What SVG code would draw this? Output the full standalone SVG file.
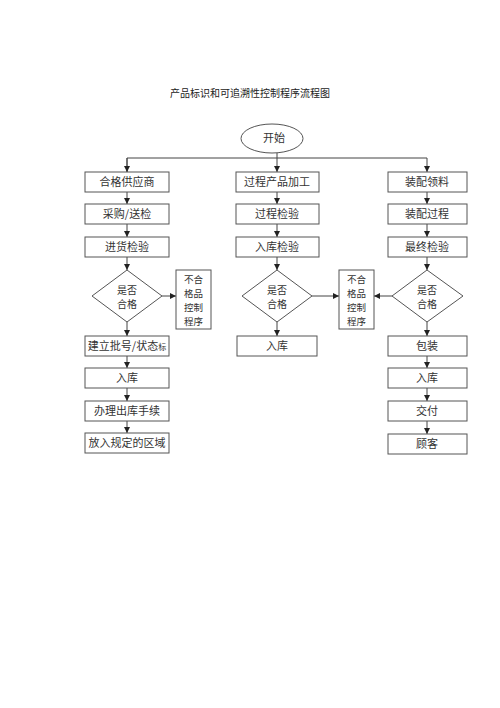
<svg xmlns="http://www.w3.org/2000/svg" width="500" height="708" viewBox="0 0 500 708">
<style>
.b{fill:#fff;stroke:#555;stroke-width:1}
.t{font-family:"Noto Sans CJK SC","Noto Sans",sans-serif;font-size:11px;fill:#333;text-anchor:middle}
.s{font-size:10px}
.n{font-size:9.5px}
.c{fill:none;stroke:#444;stroke-width:1}
</style>
<defs>
<marker id="a" markerUnits="userSpaceOnUse" markerWidth="6" markerHeight="6" refX="6" refY="3" orient="auto">
<path d="M0,0 L6,3 L0,6 z" fill="#222"/>
</marker>
</defs>
<rect width="500" height="708" fill="#fff"/>
<text class="t" x="250" y="97" style="font-size:10px;fill:#222">产品标识和可追溯性控制程序流程图</text>

<g id="connectors">
<line class="c" x1="277" y1="153" x2="277" y2="172" marker-end="url(#a)"/>
<polyline class="c" points="127,172 127,158 427,158 427,172" marker-end="url(#a)"/>
<line class="c" x1="127" y1="158" x2="127" y2="172" marker-end="url(#a)"/>
<line class="c" x1="127" y1="192" x2="127" y2="204" marker-end="url(#a)"/>
<line class="c" x1="127" y1="224" x2="127" y2="237" marker-end="url(#a)"/>
<line class="c" x1="127" y1="257" x2="127" y2="270" marker-end="url(#a)"/>
<line class="c" x1="127" y1="322" x2="127" y2="336" marker-end="url(#a)"/>
<line class="c" x1="162" y1="296" x2="176" y2="296" marker-end="url(#a)"/>
<line class="c" x1="127" y1="356" x2="127" y2="368" marker-end="url(#a)"/>
<line class="c" x1="127" y1="388" x2="127" y2="401" marker-end="url(#a)"/>
<line class="c" x1="127" y1="421" x2="127" y2="433" marker-end="url(#a)"/>
<line class="c" x1="277" y1="192" x2="277" y2="204" marker-end="url(#a)"/>
<line class="c" x1="277" y1="224" x2="277" y2="237" marker-end="url(#a)"/>
<line class="c" x1="277" y1="257" x2="277" y2="270" marker-end="url(#a)"/>
<line class="c" x1="277" y1="322" x2="277" y2="336" marker-end="url(#a)"/>
<line class="c" x1="312" y1="296" x2="339" y2="296" marker-end="url(#a)"/>
<line class="c" x1="427" y1="192" x2="427" y2="204" marker-end="url(#a)"/>
<line class="c" x1="427" y1="224" x2="427" y2="237" marker-end="url(#a)"/>
<line class="c" x1="427" y1="257" x2="427" y2="270" marker-end="url(#a)"/>
<line class="c" x1="427" y1="322" x2="427" y2="336" marker-end="url(#a)"/>
<line class="c" x1="392" y1="296" x2="374" y2="296" marker-end="url(#a)"/>
<line class="c" x1="427" y1="356" x2="427" y2="368" marker-end="url(#a)"/>
<line class="c" x1="427" y1="388" x2="427" y2="401" marker-end="url(#a)"/>
<line class="c" x1="427" y1="421" x2="427" y2="434" marker-end="url(#a)"/>
</g>

<g id="start"><ellipse class="b" cx="272" cy="138.5" rx="31" ry="14.5"/><text class="t" x="274" y="142">开始</text></g>

<g id="l1"><rect class="b" x="85" y="172" width="84" height="20"/><text class="t" x="127" y="186">合格供应商</text></g>
<g id="l2"><rect class="b" x="85" y="204" width="84" height="20"/><text class="t" x="127" y="218">采购/送检</text></g>
<g id="l3"><rect class="b" x="85" y="237" width="84" height="20"/><text class="t" x="127" y="251">进货检验</text></g>
<g id="l4"><polygon class="b" points="127,270 162,296 127,322 92,296"/><text class="t s" x="127" y="294">是否</text><text class="t s" x="127" y="308">合格</text></g>
<g id="l5"><rect class="b" x="176" y="270" width="35" height="59"/><text class="t n" x="193.5" y="283">不合</text><text class="t n" x="193.5" y="297">格品</text><text class="t n" x="193.5" y="311">控制</text><text class="t n" x="193.5" y="325">程序</text></g>
<g id="l6"><rect class="b" x="85" y="336" width="84" height="20"/><text class="t" x="127" y="350">建立批号/状态<tspan style="font-size:8px">标</tspan></text></g>
<g id="l7"><rect class="b" x="85" y="368" width="84" height="20"/><text class="t" x="127" y="382">入库</text></g>
<g id="l8"><rect class="b" x="85" y="401" width="84" height="20"/><text class="t" x="127" y="415">办理出库手续</text></g>
<g id="l9"><rect class="b" x="85" y="433" width="84" height="20"/><text class="t" x="127" y="447">放入规定的区域</text></g>

<g id="m1"><rect class="b" x="236" y="172" width="83" height="20"/><text class="t" x="277" y="186">过程产品加工</text></g>
<g id="m2"><rect class="b" x="236" y="204" width="83" height="20"/><text class="t" x="277" y="218">过程检验</text></g>
<g id="m3"><rect class="b" x="236" y="237" width="83" height="20"/><text class="t" x="277" y="251">入库检验</text></g>
<g id="m4"><polygon class="b" points="277,270 312,296 277,322 242,296"/><text class="t s" x="277" y="294">是否</text><text class="t s" x="277" y="308">合格</text></g>
<g id="m5"><rect class="b" x="339" y="270" width="35" height="59"/><text class="t n" x="356.5" y="283">不合</text><text class="t n" x="356.5" y="297">格品</text><text class="t n" x="356.5" y="311">控制</text><text class="t n" x="356.5" y="325">程序</text></g>
<g id="m6"><rect class="b" x="237" y="336" width="80" height="20"/><text class="t" x="277" y="350">入库</text></g>

<g id="r1"><rect class="b" x="388" y="172" width="79" height="20"/><text class="t" x="427" y="186">装配领料</text></g>
<g id="r2"><rect class="b" x="388" y="204" width="79" height="20"/><text class="t" x="427" y="218">装配过程</text></g>
<g id="r3"><rect class="b" x="388" y="237" width="79" height="20"/><text class="t" x="427" y="251">最终检验</text></g>
<g id="r4"><polygon class="b" points="427,270 463,296 427,322 392,296"/><text class="t s" x="427" y="294">是否</text><text class="t s" x="427" y="308">合格</text></g>
<g id="r5"><rect class="b" x="388" y="336" width="79" height="20"/><text class="t" x="427" y="350">包装</text></g>
<g id="r6"><rect class="b" x="388" y="368" width="79" height="20"/><text class="t" x="427" y="382">入库</text></g>
<g id="r7"><rect class="b" x="388" y="401" width="79" height="20"/><text class="t" x="427" y="415">交付</text></g>
<g id="r8"><rect class="b" x="388" y="434" width="79" height="20"/><text class="t" x="427" y="448">顾客</text></g>
</svg>
